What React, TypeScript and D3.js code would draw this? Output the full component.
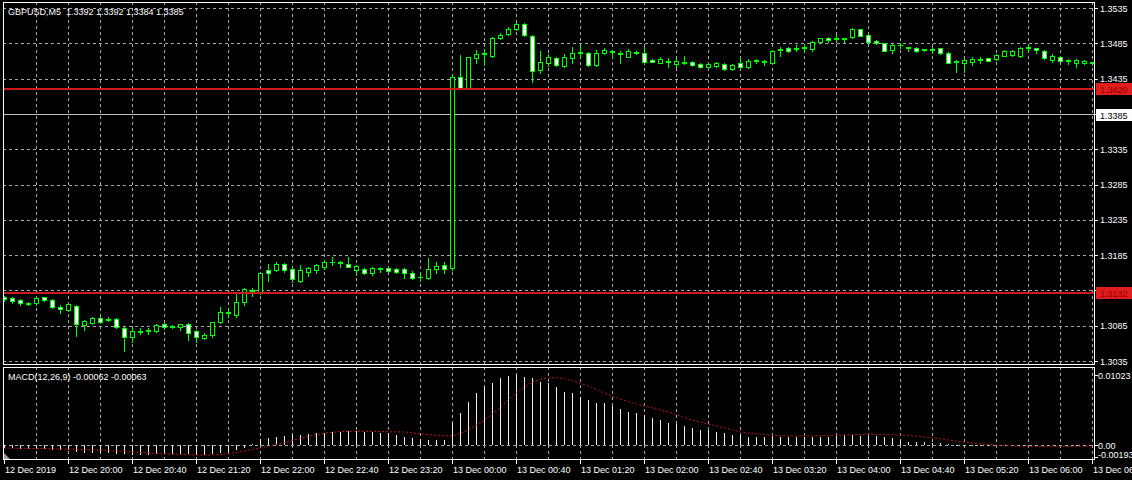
import React, { useEffect, useRef } from 'react';
import * as d3 from 'd3';

// GBPUSD M5 bars, 12 Dec 2019 19:20 .. 13 Dec 2019 06:40
const opens = [
  1.31258, 1.31239, 1.31215, 1.31173, 1.31177, 1.31253, 1.31215, 1.31116, 1.31074, 1.31131,
  1.30861, 1.30894, 1.30956, 1.30946, 1.30942, 1.30815, 1.30696, 1.30767, 1.30777, 1.30781,
  1.30871, 1.30843, 1.30837, 1.30871, 1.30777, 1.30682, 1.30720, 1.30908, 1.31031, 1.31003,
  1.31191, 1.31343, 1.31317, 1.31640, 1.31640, 1.31725, 1.31650, 1.31489, 1.31616, 1.31640,
  1.31687, 1.31747, 1.31757, 1.31725, 1.31640, 1.31650, 1.31597, 1.31664, 1.31673, 1.31654,
  1.31650, 1.31601, 1.31534, 1.31523, 1.31650, 1.31711, 1.31664, 1.34377, 1.34213, 1.34638,
  1.34699, 1.34675, 1.34921, 1.34978, 1.35053, 1.35123, 1.34957, 1.34472, 1.34575, 1.34638,
  1.34529, 1.34638, 1.34706, 1.34717, 1.34543, 1.34709, 1.34741, 1.34713, 1.34660, 1.34731,
  1.34717, 1.34614, 1.34575, 1.34592, 1.34557, 1.34578, 1.34585, 1.34557, 1.34510, 1.34533,
  1.34557, 1.34482, 1.34567, 1.34519, 1.34614, 1.34604, 1.34567, 1.34759, 1.34780, 1.34776,
  1.34783, 1.34765, 1.34873, 1.34921, 1.34911, 1.34921, 1.34935, 1.35048, 1.34966, 1.34883,
  1.34850, 1.34755, 1.34819, 1.34798, 1.34780, 1.34765, 1.34762, 1.34780, 1.34717, 1.34604,
  1.34567, 1.34581, 1.34618, 1.34638, 1.34623, 1.34675, 1.34685, 1.34670, 1.34788, 1.34780,
  1.34745, 1.34614, 1.34660, 1.34614, 1.34567, 1.34567, 1.34575,
];
const highs = [
  1.31272, 1.31251, 1.31222, 1.31187, 1.31253, 1.31262, 1.31225, 1.31144, 1.31177, 1.31144,
  1.30925, 1.30979, 1.30979, 1.30979, 1.30953, 1.30826, 1.30815, 1.30815, 1.30815, 1.30876,
  1.30885, 1.30854, 1.30876, 1.30883, 1.30790, 1.30744, 1.30908, 1.31120, 1.31106, 1.31296,
  1.31381, 1.31381, 1.31601, 1.31725, 1.31757, 1.31735, 1.31664, 1.31711, 1.31676, 1.31725,
  1.31782, 1.31820, 1.31763, 1.31829, 1.31711, 1.31668, 1.31687, 1.31687, 1.31683, 1.31668,
  1.31664, 1.31630, 1.31593, 1.31806, 1.31757, 1.31757, 1.34401, 1.34685, 1.34660, 1.34755,
  1.34765, 1.34935, 1.34992, 1.35085, 1.35156, 1.35133, 1.34968, 1.34745, 1.34694, 1.34660,
  1.34694, 1.34802, 1.34826, 1.34731, 1.34755, 1.34780, 1.34745, 1.34745, 1.34765, 1.34741,
  1.34802, 1.34621, 1.34656, 1.34642, 1.34623, 1.34670, 1.34599, 1.34575, 1.34575, 1.34589,
  1.34571, 1.34557, 1.34652, 1.34623, 1.34621, 1.34614, 1.34755, 1.34802, 1.34802, 1.34826,
  1.34840, 1.34883, 1.34932, 1.34935, 1.34968, 1.34925, 1.35062, 1.35057, 1.34968, 1.34890,
  1.34859, 1.34836, 1.34859, 1.34802, 1.34798, 1.34769, 1.34794, 1.34788, 1.34727, 1.34609,
  1.34638, 1.34652, 1.34660, 1.34646, 1.34699, 1.34759, 1.34755, 1.34794, 1.34840, 1.34783,
  1.34755, 1.34699, 1.34670, 1.34623, 1.34623, 1.34614, 1.34589,
];
const lows = [
  1.31205, 1.31177, 1.31144, 1.31137, 1.31144, 1.31197, 1.31098, 1.31026, 1.31064, 1.30706,
  1.30790, 1.30871, 1.30885, 1.30914, 1.30815, 1.30497, 1.30626, 1.30734, 1.30734, 1.30767,
  1.30800, 1.30819, 1.30790, 1.30649, 1.30626, 1.30668, 1.30688, 1.30885, 1.30979, 1.30979,
  1.31144, 1.31272, 1.31303, 1.31489, 1.31630, 1.31616, 1.31475, 1.31475, 1.31555, 1.31592,
  1.31650, 1.31711, 1.31687, 1.31678, 1.31569, 1.31579, 1.31569, 1.31616, 1.31612, 1.31601,
  1.31523, 1.31508, 1.31489, 1.31508, 1.31593, 1.31593, 1.31640, 1.34203, 1.34203, 1.34567,
  1.34543, 1.34660, 1.34911, 1.34964, 1.35038, 1.34957, 1.34306, 1.34425, 1.34529, 1.34529,
  1.34519, 1.34575, 1.34660, 1.34529, 1.34529, 1.34694, 1.34638, 1.34575, 1.34652, 1.34699,
  1.34575, 1.34585, 1.34567, 1.34519, 1.34519, 1.34557, 1.34529, 1.34496, 1.34496, 1.34519,
  1.34472, 1.34472, 1.34501, 1.34505, 1.34571, 1.34543, 1.34552, 1.34675, 1.34731, 1.34745,
  1.34731, 1.34745, 1.34864, 1.34873, 1.34873, 1.34873, 1.34921, 1.34949, 1.34859, 1.34840,
  1.34737, 1.34717, 1.34780, 1.34741, 1.34731, 1.34741, 1.34717, 1.34699, 1.34567, 1.34448,
  1.34448, 1.34543, 1.34567, 1.34595, 1.34614, 1.34666, 1.34670, 1.34656, 1.34745, 1.34717,
  1.34628, 1.34589, 1.34595, 1.34552, 1.34519, 1.34557, 1.34543,
];
const closes = [
  1.31225, 1.31205, 1.31168, 1.31163, 1.31239, 1.31215, 1.31112, 1.31081, 1.31154, 1.30871,
  1.30917, 1.30956, 1.30904, 1.30928, 1.30829, 1.30688, 1.30781, 1.30781, 1.30787, 1.30861,
  1.30837, 1.30833, 1.30871, 1.30753, 1.30696, 1.30720, 1.30900, 1.31039, 1.31040, 1.31183,
  1.31367, 1.31357, 1.31592, 1.31601, 1.31725, 1.31640, 1.31508, 1.31640, 1.31664, 1.31711,
  1.31757, 1.31757, 1.31743, 1.31687, 1.31697, 1.31593, 1.31664, 1.31654, 1.31626, 1.31616,
  1.31597, 1.31523, 1.31545, 1.31650, 1.31697, 1.31650, 1.34377, 1.34213, 1.34652, 1.34699,
  1.34713, 1.34921, 1.34968, 1.35053, 1.35123, 1.34966, 1.34462, 1.34581, 1.34660, 1.34543,
  1.34660, 1.34717, 1.34720, 1.34543, 1.34717, 1.34755, 1.34723, 1.34692, 1.34745, 1.34713,
  1.34589, 1.34589, 1.34623, 1.34599, 1.34604, 1.34585, 1.34538, 1.34510, 1.34552, 1.34575,
  1.34482, 1.34543, 1.34510, 1.34604, 1.34595, 1.34581, 1.34741, 1.34769, 1.34748, 1.34783,
  1.34791, 1.34869, 1.34921, 1.34901, 1.34918, 1.34904, 1.35048, 1.34958, 1.34873, 1.34850,
  1.34745, 1.34826, 1.34826, 1.34780, 1.34745, 1.34751, 1.34766, 1.34709, 1.34575, 1.34581,
  1.34614, 1.34628, 1.34625, 1.34604, 1.34685, 1.34745, 1.34741, 1.34780, 1.34794, 1.34755,
  1.34638, 1.34670, 1.34604, 1.34604, 1.34614, 1.34604, 1.34585,
];

// MACD(12,26,9): main (histogram) and signal
const macdMain = [
  -0.0005, -0.0005, -0.0006, -0.0006, -0.0006, -0.0006, -0.0007, -0.0008, -0.0008, -0.0011,
  -0.0012, -0.0012, -0.0012, -0.0012, -0.0013, -0.0014, -0.0015, -0.0015, -0.0015, -0.0014,
  -0.0014, -0.0014, -0.0014, -0.0014, -0.0015, -0.0015, -0.0014, -0.0012, -0.0010, -0.0007,
  -0.0004, 0.0001, 0.0008, 0.0010, 0.0012, 0.0013, 0.0014, 0.0015, 0.0016, 0.0017,
  0.0018, 0.0019, 0.0019, 0.0020, 0.0020, 0.0019, 0.0019, 0.0018, 0.0017, 0.0015,
  0.0011, 0.00095, 0.00081, 0.0007, 0.0007, 0.0007, 0.00315, 0.0047, 0.00632, 0.00754,
  0.00851, 0.0091, 0.00974, 0.01005, 0.01023, 0.01, 0.00974, 0.00925, 0.0091, 0.00842,
  0.00778, 0.00754, 0.00696, 0.00656, 0.00617, 0.00608, 0.00568, 0.0052, 0.00485, 0.00461,
  0.00437, 0.00388, 0.00363, 0.00324, 0.00305, 0.00275, 0.00242, 0.00217, 0.00217, 0.00192,
  0.00168, 0.00144, 0.00144, 0.0011, 0.0011, 0.0011, 0.00129, 0.00119, 0.0011, 0.0011,
  0.00119, 0.0011, 0.0011, 0.0011, 0.00144, 0.00144, 0.00144, 0.00129, 0.00129, 0.00129,
  0.0011, 0.00095, 0.0007, 0.00046, 0.00046, 0.00046, 0.0003, 0.0002, 0.00005, -0.0001,
  -0.00012, -0.00012, -0.00012, -0.00013, -0.0001, -0.00006, -0.00004, -0.00002, 0.00001, 0.0,
  -0.00004, -0.00005, -0.00007, -0.00009, -0.00011, -0.00013, -0.00014,
];
const macdSignal = [
  -0.00047, -0.00049, -0.0005, -0.00052, -0.00054, -0.00056, -0.00058, -0.0006, -0.00062, -0.00066,
  -0.0007, -0.00074, -0.00078, -0.00084, -0.0009, -0.00097, -0.00105, -0.00112, -0.00119, -0.00126,
  -0.00132, -0.00137, -0.00141, -0.00145, -0.00149, -0.0015, -0.00149, -0.00142, -0.0013, -0.00112,
  -0.0009, -0.00065, -0.00045, -0.0002, 0.00005, 0.0003, 0.00065, 0.00095, 0.00125, 0.0015,
  0.00172, 0.00185, 0.00193, 0.00198, 0.002, 0.002, 0.00198, 0.00195, 0.00192, 0.0019,
  0.00188, 0.00175, 0.0016, 0.00148, 0.0014, 0.00133, 0.0013, 0.00165, 0.00215, 0.0029,
  0.0036, 0.0045, 0.0055, 0.0066, 0.0077, 0.0085, 0.0092, 0.0096, 0.0098, 0.00985,
  0.0097, 0.0094, 0.009, 0.0086, 0.0081, 0.0076, 0.0071, 0.0067, 0.0063, 0.006,
  0.0057, 0.0054, 0.0051, 0.0048, 0.0044, 0.004, 0.0036, 0.0033, 0.003, 0.00275,
  0.0025, 0.0022, 0.0019, 0.00175, 0.0016, 0.0015, 0.0014, 0.00135, 0.0013, 0.0013,
  0.0013, 0.00132, 0.00134, 0.00136, 0.0014, 0.00144, 0.00148, 0.00152, 0.00155, 0.00155,
  0.00152, 0.00148, 0.00144, 0.00135, 0.00125, 0.00114, 0.001, 0.00088, 0.0007, 0.00055,
  0.0004, 0.00028, 0.00015, 0.00005, -0.00005, -0.00012, -0.00018, -0.00022, -0.00025, -0.00027,
  -0.00028, -0.00028, -0.00027, -0.00025, -0.00022, -0.0002, -0.00018,
];

const priceTicks = [1.3535, 1.3485, 1.3435, 1.3385, 1.3335, 1.3285, 1.3235, 1.3185, 1.3135, 1.3085, 1.3035];
const priceTickLabels = ['1.3535', '1.3485', '1.3435', '1.3385', '1.3335', '1.3285', '1.3235', '1.3185', '1.3135', '1.3085', '1.3035'];
const timeLabels = [
  '12 Dec 2019', '12 Dec 20:00', '12 Dec 20:40', '12 Dec 21:20', '12 Dec 22:00', '12 Dec 22:40',
  '12 Dec 23:20', '13 Dec 00:00', '13 Dec 00:40', '13 Dec 01:20', '13 Dec 02:00', '13 Dec 02:40',
  '13 Dec 03:20', '13 Dec 04:00', '13 Dec 04:40', '13 Dec 05:20', '13 Dec 06:00', '13 Dec 06:40',
];
const redLevels = [1.342, 1.3132];
const redLabels = ['1.3420', '1.3132'];
const bidPrice = 1.3385;
const macdTicks = [0.01023, 0.0, -0.00193];
const macdTickLabels = ['0.01023', '0.00', '-0.00193'];

const W = 1132;
const H = 480;
const FONT = '"Liberation Sans", Arial, sans-serif';

const App: React.FC = () => {
  const svgRef = useRef<SVGSVGElement | null>(null);

  useEffect(() => {
    const svg = d3.select(svgRef.current);
    svg.selectAll('*').remove();

    const main = { left: 3, right: 1094, top: 2, bottom: 364 };
    const sub = { left: 3, right: 1094, top: 367, bottom: 459 };

    const n = closes.length;
    const x = d3.scaleLinear().domain([0, n - 1]).range([4, 1092]);
    const y = d3.scaleLinear().domain([1.3035, 1.3535]).range([361, 8]);
    const my = d3.scaleLinear().domain([-0.00193, 0.01023]).range([458, 375]);
    const px = (v: number) => Math.round(v) + 0.5;

    svg.append('rect').attr('width', W).attr('height', H).attr('fill', '#000');

    const defs = svg.append('defs');
    defs.append('clipPath').attr('id', 'clipMain').append('rect')
      .attr('x', main.left + 1).attr('y', main.top + 1)
      .attr('width', main.right - main.left - 1).attr('height', main.bottom - main.top - 1);
    defs.append('clipPath').attr('id', 'clipSub').append('rect')
      .attr('x', sub.left + 1).attr('y', sub.top + 1)
      .attr('width', sub.right - sub.left - 1).attr('height', sub.bottom - sub.top - 1);

    // grid
    const grid = svg.append('g')
      .attr('stroke', '#a8a8b0')
      .attr('stroke-width', 1)
      .attr('stroke-dasharray', '3,3');
    d3.range(4, n, 4).forEach((i) => {
      grid.append('line')
        .attr('x1', px(x(i))).attr('x2', px(x(i)))
        .attr('y1', main.top).attr('y2', main.bottom);
      grid.append('line')
        .attr('x1', px(x(i))).attr('x2', px(x(i)))
        .attr('y1', sub.top).attr('y2', sub.bottom);
    });
    priceTicks.forEach((p) => {
      grid.append('line')
        .attr('x1', main.left).attr('x2', main.right)
        .attr('y1', px(y(p))).attr('y2', px(y(p)));
    });
    grid.append('line')
      .attr('x1', sub.left).attr('x2', sub.right)
      .attr('y1', px(my(0))).attr('y2', px(my(0)));

    // bid line
    svg.append('line')
      .attr('x1', main.left).attr('x2', main.right)
      .attr('y1', px(y(bidPrice))).attr('y2', px(y(bidPrice)))
      .attr('stroke', '#c0c0c0');

    // candles
    const gc = svg.append('g').attr('clip-path', 'url(#clipMain)');
    closes.forEach((c, i) => {
      const o = opens[i];
      const cx = Math.round(x(i));
      gc.append('line')
        .attr('x1', cx + 0.5).attr('x2', cx + 0.5)
        .attr('y1', Math.round(y(highs[i]))).attr('y2', Math.round(y(lows[i])) + 1)
        .attr('stroke', '#00ff00');
      const top = Math.round(y(Math.max(o, c)));
      const bot = Math.round(y(Math.min(o, c)));
      if (bot - top < 1) {
        gc.append('line')
          .attr('x1', cx - 2).attr('x2', cx + 3)
          .attr('y1', top + 0.5).attr('y2', top + 0.5)
          .attr('stroke', '#00ff00');
      } else {
        gc.append('rect')
          .attr('x', cx - 2 + 0.5).attr('y', top + 0.5)
          .attr('width', 4).attr('height', bot - top)
          .attr('fill', c < o ? '#ffffff' : '#000000')
          .attr('stroke', '#00ff00');
      }
    });

    // red horizontal lines drawn over the bars
    redLevels.forEach((p) => {
      svg.append('line')
        .attr('x1', main.left).attr('x2', main.right)
        .attr('y1', Math.round(y(p))).attr('y2', Math.round(y(p)))
        .attr('stroke', '#d01a1a')
        .attr('stroke-width', 2);
    });

    // MACD
    const gm = svg.append('g').attr('clip-path', 'url(#clipSub)');
    macdMain.forEach((v, i) => {
      gm.append('line')
        .attr('x1', px(x(i))).attr('x2', px(x(i)))
        .attr('y1', Math.round(my(0))).attr('y2', Math.round(my(v)))
        .attr('stroke', '#ececec');
    });
    const sigLine = d3.line<number>()
      .x((_, i) => x(i) + 0.5)
      .y((d) => my(d));
    gm.append('path')
      .attr('d', sigLine(macdSignal))
      .attr('fill', 'none')
      .attr('stroke', '#c01818')
      .attr('stroke-width', 1)
      .attr('stroke-dasharray', '2,2');
    gm.append('path')
      .attr('d', `M${sub.left + 1},${sub.bottom - 6}L${sub.left + 1},${sub.bottom}L${sub.left + 7},${sub.bottom}Z`)
      .attr('fill', '#9a9a9a');

    // frames
    const frames = svg.append('g').attr('fill', 'none').attr('stroke', '#ffffff');
    frames.append('rect')
      .attr('x', main.left + 0.5).attr('y', main.top + 0.5)
      .attr('width', main.right - main.left).attr('height', main.bottom - main.top);
    frames.append('rect')
      .attr('x', sub.left + 0.5).attr('y', sub.top + 0.5)
      .attr('width', sub.right - sub.left).attr('height', sub.bottom - sub.top);

    // price axis
    const axis = svg.append('g')
      .attr('font-family', FONT)
      .attr('font-size', 9)
      .attr('fill', '#ffffff');
    const boxLevels = [...redLevels, bidPrice];
    priceTicks.forEach((p, i) => {
      axis.append('line')
        .attr('x1', main.right).attr('x2', main.right + 4)
        .attr('y1', px(y(p))).attr('y2', px(y(p)))
        .attr('stroke', '#ffffff');
      // labels hidden behind a price box are not drawn
      const hidden = boxLevels.some((b) => Math.abs(y(b) - y(p)) < 7);
      if (!hidden) {
        axis.append('text')
          .attr('x', main.right + 6).attr('y', y(p) + 3.5)
          .text(priceTickLabels[i]);
      }
    });
    redLevels.forEach((p, i) => {
      const yy = Math.round(y(p));
      axis.append('rect')
        .attr('x', main.right + 2).attr('y', yy - 6)
        .attr('width', W - main.right - 2).attr('height', 12)
        .attr('fill', '#e01c1c');
      axis.append('text')
        .attr('x', main.right + 6).attr('y', yy + 4)
        .attr('fill', '#8c0000')
        .text(redLabels[i]);
    });
    {
      const yy = Math.round(y(bidPrice));
      axis.append('rect')
        .attr('x', main.right + 2).attr('y', yy - 5)
        .attr('width', W - main.right - 2).attr('height', 12)
        .attr('fill', '#ffffff');
      axis.append('text')
        .attr('x', main.right + 6).attr('y', yy + 4.5)
        .attr('fill', '#000000')
        .text(bidPrice.toFixed(4));
    }

    // MACD axis
    macdTicks.forEach((v, i) => {
      const yy = i === 2 ? sub.bottom - 2 : Math.round(my(v));
      axis.append('line')
        .attr('x1', sub.right).attr('x2', sub.right + 4)
        .attr('y1', yy + 0.5).attr('y2', yy + 0.5)
        .attr('stroke', '#ffffff');
      axis.append('text')
        .attr('x', sub.right + 4).attr('y', i === 2 ? sub.bottom - 1 : yy + 4)
        .text(macdTickLabels[i]);
    });

    // time axis
    timeLabels.forEach((t, j) => {
      const xx = Math.round(x(j * 8));
      axis.append('line')
        .attr('x1', xx + 0.5).attr('x2', xx + 0.5)
        .attr('y1', sub.bottom).attr('y2', sub.bottom + 5)
        .attr('stroke', '#ffffff');
      axis.append('text')
        .attr('x', xx + 1).attr('y', 473)
        .text(t);
    });

    // headers
    axis.append('text')
      .attr('x', 8).attr('y', 15)
      .attr('xml:space', 'preserve')
      .style('white-space', 'pre')
      .text('GBPUSD,M5  1.3392 1.3392 1.3384 1.3385');
    axis.append('text')
      .attr('x', 8).attr('y', 380)
      .text('MACD(12,26,9) -0.00062 -0.00063');
  }, []);

  return (
    <svg
      ref={svgRef}
      width={W}
      height={H}
      style={{ position: 'fixed', left: 0, top: 0, display: 'block', background: '#000' }}
    />
  );
};

export default App;
